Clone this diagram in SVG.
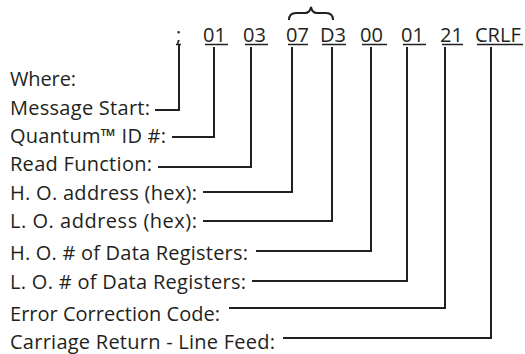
<svg xmlns="http://www.w3.org/2000/svg" width="525" height="354" viewBox="0 0 525 354">
<style>
text{font-family:"Open Sans","Noto Sans","Liberation Sans",sans-serif;font-size:20px;fill:#231f20}
.c{fill:none;stroke:#231f20;stroke-width:2}
.u{stroke:#231f20;stroke-width:1.5}
</style>
<rect width="525" height="354" fill="#fff"/>
<g id="message">
<text x="176" y="42">;</text>
<text x="203" y="42">01</text>
<text x="243" y="42">03</text>
<text x="286" y="42">07</text>
<text x="320" y="42">D3</text>
<text x="360" y="42">00</text>
<text x="401" y="42">01</text>
<text x="440" y="42">21</text>
<text x="475" y="42">CRLF</text>
<g class="u">
<line x1="176" y1="44.5" x2="181" y2="44.5"/>
<line x1="205" y1="44.5" x2="228" y2="44.5"/>
<line x1="245" y1="44.5" x2="268" y2="44.5"/>
<line x1="288" y1="44.5" x2="308" y2="44.5"/>
<line x1="322" y1="44.5" x2="346" y2="44.5"/>
<line x1="362" y1="44.5" x2="387" y2="44.5"/>
<line x1="403" y1="44.5" x2="426" y2="44.5"/>
<line x1="442" y1="44.5" x2="463" y2="44.5"/>
<line x1="477" y1="44.5" x2="523" y2="44.5"/>
</g>
<path class="c" stroke-width="3" d="M289,20 Q289,13 296,13 H305 Q310,13 311,7 Q312,13 317,13 H326 Q333,13 333,20"/>
</g>
<g id="labels">
<text x="10" y="86" textLength="66" lengthAdjust="spacing">Where:</text>
<text x="10" y="115" textLength="140" lengthAdjust="spacing">Message Start:</text>
<text x="10" y="143" textLength="156" lengthAdjust="spacing">Quantum™ ID #:</text>
<text x="10" y="171" textLength="142" lengthAdjust="spacing">Read Function:</text>
<text x="10" y="200" textLength="187" lengthAdjust="spacing">H. O. address (hex):</text>
<text x="10" y="228" textLength="187" lengthAdjust="spacing">L. O. address (hex):</text>
<text x="10" y="260" textLength="238" lengthAdjust="spacing">H. O. # of Data Registers:</text>
<text x="10" y="289" textLength="236" lengthAdjust="spacing">L. O. # of Data Registers:</text>
<text x="10" y="321" textLength="210" lengthAdjust="spacing">Error Correction Code:</text>
<text x="10" y="349" textLength="265" lengthAdjust="spacing">Carriage Return - Line Feed:</text>
</g>
<g id="connectors" class="c">
<path d="M179,44 V110 H155"/>
<path d="M214,47 V137 H172"/>
<path d="M251,47 V167 H158"/>
<path d="M292,47 V192 H203"/>
<path d="M332,47 V221 H203"/>
<path d="M371,47 V251 H256"/>
<path d="M407,47 V281 H252"/>
<path d="M445,47 V308 H229"/>
<path d="M491,47 V338 H283"/>
</g>
</svg>
